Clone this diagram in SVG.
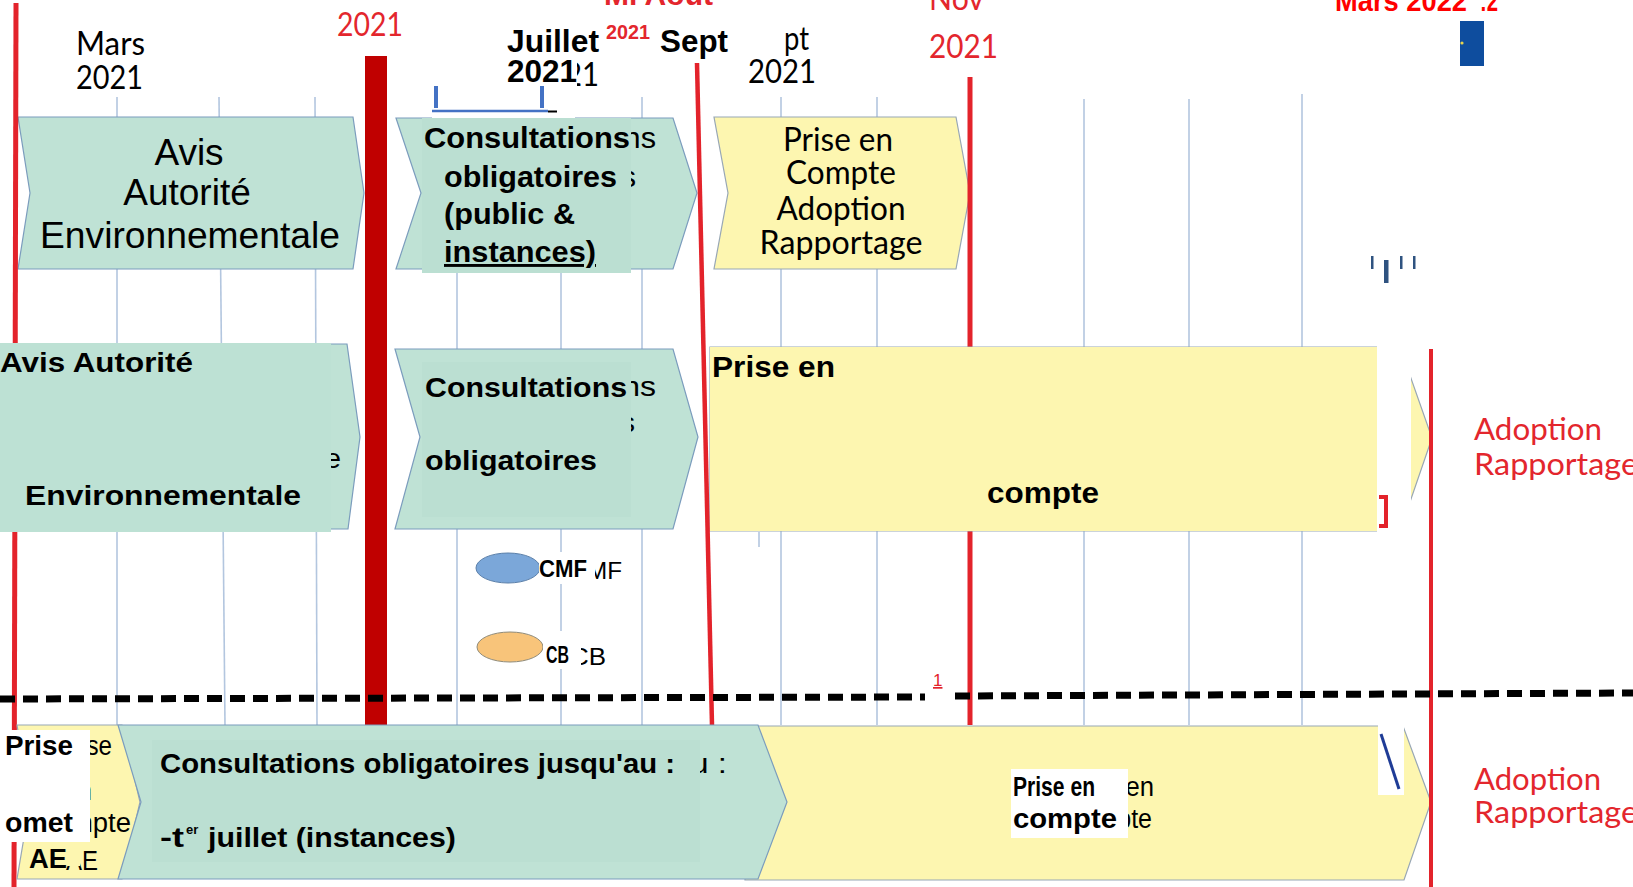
<svg xmlns="http://www.w3.org/2000/svg" width="1633" height="887" viewBox="0 0 1633 887">
<style>
.g{fill:#bfe2d5;stroke:#7b9cbd;stroke-width:1.2}
.gi{fill:#bbdfd2}
.y{fill:#fdf6b0;stroke:#98a7b5;stroke-width:1.2}
.grid{stroke:#b3c6df;stroke-width:1.6}
.cal{font-family:Lato,"Liberation Sans",sans-serif}
.ar{font-family:"Liberation Sans",Arial,sans-serif}
.b{font-weight:bold}
.k{fill:#000}
.r{fill:#e3262d}
.gh{font-family:"Liberation Sans",Arial,sans-serif;fill:#000}
.w{fill:#fff}
</style>
<rect width="1633" height="887" fill="#fff"/>

<g id="grid">
<line class="grid" x1="117" y1="97" x2="117" y2="725"/>
<line class="grid" x1="219" y1="97" x2="225" y2="725"/>
<line class="grid" x1="315" y1="97" x2="317" y2="725"/>
<line class="grid" x1="457" y1="270" x2="457" y2="725"/>
<line class="grid" x1="561" y1="270" x2="561" y2="725"/>
<line class="grid" x1="642" y1="97" x2="642" y2="725"/>
<line class="grid" x1="759" y1="532" x2="759" y2="547"/>
<line class="grid" x1="781" y1="97" x2="781" y2="725"/>
<line class="grid" x1="877" y1="97" x2="877" y2="725"/>
<line class="grid" x1="1084" y1="99" x2="1084" y2="725"/>
<line class="grid" x1="1189" y1="99" x2="1189" y2="725"/>
<line class="grid" x1="1302" y1="94" x2="1302" y2="725"/>
</g>

<g id="labels-top">
<text class="cal k" font-size="32" x="76" y="55" textLength="69" lengthAdjust="spacingAndGlyphs">Mars</text>
<text class="cal k" font-size="32" x="76" y="89" textLength="67" lengthAdjust="spacingAndGlyphs">2021</text>
<text class="cal r" font-size="32" x="337" y="36" textLength="66" lengthAdjust="spacingAndGlyphs">2021</text>
<text class="ar b r" font-size="30" x="604" y="5" textLength="109" lengthAdjust="spacingAndGlyphs">Mi Août</text>
<text class="cal k" font-size="32" x="531" y="86" textLength="68" lengthAdjust="spacingAndGlyphs">2021</text>
<rect class="w" x="505" y="58" width="72" height="30"/>
<text class="ar b k" font-size="32" x="507" y="52" textLength="92" lengthAdjust="spacingAndGlyphs">Juillet</text>
<text class="ar b k" font-size="32" x="507" y="82" textLength="70" lengthAdjust="spacingAndGlyphs">2021</text>
<text class="ar b r" font-size="20" x="606" y="39" textLength="44" lengthAdjust="spacingAndGlyphs">2021</text>
<text class="ar b k" font-size="31" x="660" y="52" textLength="68" lengthAdjust="spacingAndGlyphs">Sept</text>
<text class="cal k" font-size="32" x="784" y="50" textLength="25" lengthAdjust="spacingAndGlyphs">pt</text>
<text class="cal k" font-size="32" x="748" y="83" textLength="68" lengthAdjust="spacingAndGlyphs">2021</text>
<text class="cal r" font-size="32" x="929" y="10" textLength="55" lengthAdjust="spacingAndGlyphs">Nov</text>
<text class="cal r" font-size="32" x="929" y="58" textLength="69" lengthAdjust="spacingAndGlyphs">2021</text>
<text class="ar b" fill="#ff0000" font-size="30" x="1335" y="11" textLength="132" lengthAdjust="spacingAndGlyphs">Mars 2022</text>
<text class="ar b" fill="#ff0000" font-size="30" x="1480" y="11" textLength="18" lengthAdjust="spacingAndGlyphs">:2</text>
<rect x="1460" y="21" width="24" height="45" fill="#0e4d9e"/>
<circle cx="1462" cy="43" r="1.6" fill="#e8d44d"/>
<rect x="1371" y="256" width="2.5" height="13" fill="#2f5380"/>
<rect x="1384" y="260" width="4.5" height="23" fill="#2f5380"/>
<rect x="1400" y="256" width="2.5" height="13" fill="#2f5380"/>
<rect x="1413" y="256" width="2.5" height="13" fill="#2f5380"/>
</g>

<g id="bracket">
<rect x="434" y="86" width="4" height="22" fill="#4472c4"/>
<rect x="540" y="86" width="4" height="22" fill="#4472c4"/>
<line x1="432" y1="111" x2="548" y2="111" stroke="#4472c4" stroke-width="2.5"/>
<line x1="548" y1="111.5" x2="557" y2="111.5" stroke="#000" stroke-width="2"/>
</g>

<g id="node-avis-1">
<polygon class="g" points="18,117 353,117 364,193 353,269 18,269 30,193"/>
<text class="ar k" font-size="37" x="189" y="165" text-anchor="middle">Avis</text>
<text class="ar k" font-size="37" x="187" y="205" text-anchor="middle">Autorité</text>
<text class="ar k" font-size="37" x="190" y="248" text-anchor="middle" textLength="300" lengthAdjust="spacingAndGlyphs">Environnementale</text>
</g>

<g id="node-consult-1">
<polygon class="g" points="396,118 673,118 697,193 673,269 396,269 421,193"/>
<text class="gh" font-size="30" x="470" y="148" textLength="186" lengthAdjust="spacingAndGlyphs">Consultations</text>
<text class="gh" font-size="30" x="482" y="187" textLength="154" lengthAdjust="spacingAndGlyphs">obligatoires</text>
<rect class="gi" x="422" y="118" width="209" height="155"/>
<rect class="w" x="432" y="113" width="143" height="5"/>
<text class="ar b k" font-size="29" x="424" y="148" textLength="206" lengthAdjust="spacingAndGlyphs">Consultations</text>
<text class="ar b k" font-size="29" x="444" y="187" textLength="173" lengthAdjust="spacingAndGlyphs">obligatoires</text>
<text class="ar b k" font-size="29" x="444" y="224" textLength="131" lengthAdjust="spacingAndGlyphs">(public &amp;</text>
<text class="ar b k" font-size="29" x="444" y="262" textLength="152" lengthAdjust="spacingAndGlyphs" text-decoration="underline">instances)</text>
</g>

<g id="node-prise-1">
<polygon class="y" points="714,117 956,117 970,193 956,269 714,269 728,193"/>
<text class="cal k" font-size="32" x="838" y="151" text-anchor="middle" textLength="110" lengthAdjust="spacingAndGlyphs">Prise en</text>
<text class="cal k" font-size="32" x="841" y="184" text-anchor="middle" textLength="110" lengthAdjust="spacingAndGlyphs">Compte</text>
<text class="cal k" font-size="32" x="841" y="220" text-anchor="middle" textLength="129" lengthAdjust="spacingAndGlyphs">Adoption</text>
<text class="cal k" font-size="32" x="841" y="254" text-anchor="middle" textLength="163" lengthAdjust="spacingAndGlyphs">Rapportage</text>
</g>

<g id="milestones-back">
<line x1="16" y1="3" x2="14" y2="887" stroke="#e3232b" stroke-width="5"/>
<line x1="970" y1="77" x2="970" y2="725" stroke="#e3232b" stroke-width="5"/>
<rect x="365" y="56" width="22" height="669" fill="#c00000"/>
</g>

<g id="node-avis-2">
<polygon class="g" points="-5,344 347,344 360,437 348,529 -5,529"/>
<text class="gh" font-size="27" x="101" y="468" textLength="240" lengthAdjust="spacingAndGlyphs">Environnementale</text>
<rect x="0" y="343" width="331" height="189" fill="#bde1d4"/>
<text class="ar b k" font-size="27" x="0" y="372" textLength="193" lengthAdjust="spacingAndGlyphs">Avis Autorité</text>
<text class="ar b k" font-size="27" x="25" y="505" textLength="276" lengthAdjust="spacingAndGlyphs">Environnementale</text>
</g>

<g id="node-consult-2">
<polygon class="g" points="395,349 673,349 698,437 673,529 395,529 420,437"/>
<text class="gh" font-size="28" x="462" y="396" textLength="194" lengthAdjust="spacingAndGlyphs">Consultations</text>
<text class="gh" font-size="28" x="481" y="432" textLength="154" lengthAdjust="spacingAndGlyphs">obligatoires</text>
<rect class="gi" x="422" y="362" width="209" height="155"/>
<text class="ar b k" font-size="28" x="425" y="397" textLength="202" lengthAdjust="spacingAndGlyphs">Consultations</text>
<text class="ar b k" font-size="28" x="425" y="470" textLength="172" lengthAdjust="spacingAndGlyphs">obligatoires</text>
</g>

<g id="node-prise-2">
<polygon class="y" points="710,347 1400,347 1432,438 1400,531 710,531"/>
<rect class="w" x="1377" y="340" width="34" height="198"/>
<rect x="710" y="347" width="667" height="184" fill="#fdf6b0"/>
<path d="M1379,497 H1386 V526 H1379" fill="none" stroke="#e3232b" stroke-width="4"/>
<text class="ar b k" font-size="29" x="712" y="377" textLength="123" lengthAdjust="spacingAndGlyphs">Prise en</text>
<text class="ar b k" font-size="29" x="987" y="503" textLength="112" lengthAdjust="spacingAndGlyphs">compte</text>
</g>

<g id="label-adoption-2">
<text class="cal r" font-size="31" x="1474" y="440" textLength="128" lengthAdjust="spacingAndGlyphs">Adoption</text>
<text class="cal r" font-size="31" x="1474" y="475" textLength="164" lengthAdjust="spacingAndGlyphs">Rapportage</text>
</g>

<g id="node-cmf">
<ellipse cx="508" cy="568" rx="32" ry="15" fill="#7ba7d9" stroke="#5a7fa9" stroke-width="1"/>
<text class="gh" font-size="24" x="587" y="579" textLength="35" lengthAdjust="spacingAndGlyphs">MF</text>
<rect class="w" x="539" y="552" width="56" height="32"/>
<text class="ar b k" font-size="24" x="539" y="577" textLength="48" lengthAdjust="spacingAndGlyphs">CMF</text>
</g>

<g id="node-cb">
<ellipse cx="510" cy="647" rx="33" ry="15" fill="#f8c47a" stroke="#8f8a78" stroke-width="1"/>
<text class="gh" font-size="24" x="570" y="665" textLength="36" lengthAdjust="spacingAndGlyphs">CB</text>
<rect class="w" x="543" y="631" width="38" height="38"/>
<text class="ar b k" font-size="24" x="546" y="663" textLength="23" lengthAdjust="spacingAndGlyphs">CB</text>
</g>

<g id="milestone-sept">
<line x1="697" y1="63" x2="712" y2="725" stroke="#e3232b" stroke-width="4.5"/>
</g>

<g id="node-prise-3">
<polygon class="y" points="745,726 1403,726 1431,802 1404,880 745,880"/>
<rect class="w" x="1378" y="725" width="26" height="70"/>
<line x1="1381" y1="734" x2="1399" y2="789" stroke="#1f3c96" stroke-width="3"/>
<text class="gh" font-size="27" x="1060" y="796" textLength="94" lengthAdjust="spacingAndGlyphs">Prise en</text>
<text class="gh" font-size="27" x="1070" y="828" textLength="82" lengthAdjust="spacingAndGlyphs">compte</text>
<rect class="w" x="1011" y="769" width="117" height="69"/>
<text class="ar b k" font-size="27" x="1013" y="796" textLength="82" lengthAdjust="spacingAndGlyphs">Prise en</text>
<text class="ar b k" font-size="27" x="1013" y="828" textLength="104" lengthAdjust="spacingAndGlyphs">compte</text>
</g>

<g id="node-ae-3">
<polygon class="y" points="17,725 122,725 140,802 122,879 17,879 30,802"/>
<text class="gh" font-size="27" x="57" y="755" textLength="55" lengthAdjust="spacingAndGlyphs">Prise</text>
<text class="gh" font-size="27" x="62" y="800" textLength="30" lengthAdjust="spacingAndGlyphs">en</text>
<text class="gh" font-size="27" x="41" y="832" textLength="90" lengthAdjust="spacingAndGlyphs">compte</text>
<text class="gh" font-size="27" x="66" y="870" textLength="32" lengthAdjust="spacingAndGlyphs">AE</text>
<rect x="27" y="842" width="53" height="24" fill="#fdf6b0"/>
<rect class="w" x="0" y="730" width="90" height="112"/>
<text class="ar b k" font-size="28" x="5" y="755" textLength="68" lengthAdjust="spacingAndGlyphs">Prise</text>
<text class="ar b k" font-size="28" x="5" y="832" textLength="68" lengthAdjust="spacingAndGlyphs">omet</text>
<text class="ar b k" font-size="28" x="29" y="868" textLength="38" lengthAdjust="spacingAndGlyphs">AE</text>
</g>

<g id="node-consult-3">
<polygon class="g" points="118,725 758,725 787,802 758,879 118,879 141,802"/>
<text class="gh" font-size="27" x="200" y="773" textLength="527" lengthAdjust="spacingAndGlyphs">Consultations obligatoires jusqu'au :</text>
<rect class="gi" x="152" y="740" width="548" height="122"/>
<text class="ar b k" font-size="27" x="160" y="773" textLength="515" lengthAdjust="spacingAndGlyphs">Consultations obligatoires jusqu'au :</text>
<text class="ar b k" font-size="27" x="160" y="847" textLength="24" lengthAdjust="spacingAndGlyphs">-t</text>
<text class="ar b k" font-size="13" x="186" y="834">er</text>
<text class="ar b k" font-size="27" x="208" y="847" textLength="248" lengthAdjust="spacingAndGlyphs">juillet (instances)</text>
</g>

<g id="label-adoption-3">
<text class="cal r" font-size="31" x="1474" y="790" textLength="127" lengthAdjust="spacingAndGlyphs">Adoption</text>
<text class="cal r" font-size="31" x="1474" y="823" textLength="164" lengthAdjust="spacingAndGlyphs">Rapportage</text>
</g>

<g id="connectors">
<line x1="1431" y1="349" x2="1431" y2="887" stroke="#e3232b" stroke-width="4"/>
<line x1="0" y1="699" x2="925" y2="697" stroke="#000" stroke-width="7" stroke-dasharray="15 8"/>
<line x1="955" y1="696" x2="1633" y2="693" stroke="#000" stroke-width="7" stroke-dasharray="15 8"/>
<rect class="w" x="925" y="688" width="30" height="37"/>
<text class="ar" fill="#e3232b" font-size="17" x="933" y="686" text-decoration="underline">1</text>
</g>
</svg>
